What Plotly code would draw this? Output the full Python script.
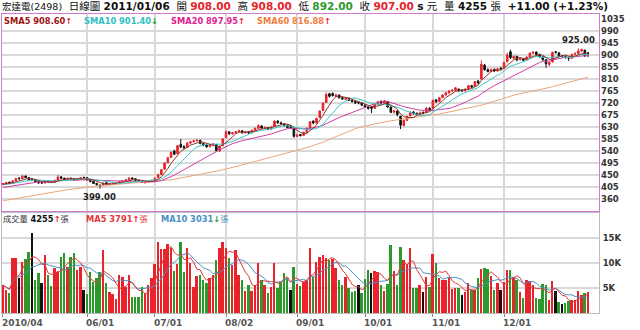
import pandas as pd
import plotly.graph_objects as go

# ---------------- data ----------------
holidays = ["2010-06-16", "2010-09-22"]
dates = pd.bdate_range("2010-04-26", "2011-01-06")
dates = dates[~dates.isin(pd.to_datetime(holidays))]

# closes before the first visible bar (only used to seed the moving averages)
pre_close = [290, 288, 292, 295, 293, 298, 300, 296, 302, 305, 308, 304, 310, 312, 315, 312, 318, 320,
             326, 329, 332, 328, 334, 339, 336, 342, 346, 344, 349, 352, 350, 356, 354, 359, 362, 360,
             364, 366, 369, 372,
             382, 385, 388, 386, 392, 396, 400, 398, 404, 408, 405, 410, 412, 408, 414, 416, 412, 418, 415]

open_ = [414, 417, 423, 420, 428, 438, 437, 446, 440, 434,
         432, 425, 421, 420, 427, 425, 422, 431, 443, 438,
         433, 438, 436, 431, 436, 441, 440, 432, 426, 419,
         412, 410, 421, 415, 418, 420, 422, 425, 428, 432,
         439, 436, 430, 426, 421, 424, 426, 430, 440, 452,
         472, 496, 516, 540, 530, 565, 556, 553, 570, 575,
         578, 580, 568, 562, 556, 562, 565, 540, 560, 590,
         612, 604, 608, 612, 616, 608, 612, 608, 618, 625,
         634, 626, 628, 622, 632, 652, 646, 642, 636, 635,
         625, 595, 602, 598, 610, 626, 652, 645, 665, 692,
         722, 755, 755, 745, 750, 740, 734, 738, 730, 726,
         722, 720, 712, 706, 705, 700, 715, 726, 720, 725,
         705, 686, 690, 670, 635, 655, 672, 686, 682, 677,
         685, 684, 700, 700, 732, 726, 740, 750, 758, 765,
         768, 772, 768, 766, 772, 785, 782, 802, 810, 862,
         845, 838, 846, 840, 850, 850, 875, 912, 888, 895,
         882, 886, 882, 893, 907, 911, 902, 893, 882, 865,
         874, 912, 908, 897, 895, 890, 888, 903, 905, 915,
         918, 908]
high = [420, 424, 425, 430, 440, 442, 450, 448, 442, 436,
        433, 427, 424, 428, 430, 427, 432, 450, 446, 440,
        440, 440, 437, 438, 442, 444, 441, 434, 428, 420,
        415, 422, 423, 420, 422, 424, 427, 430, 434, 442,
        441, 437, 431, 428, 426, 428, 432, 440, 455, 472,
        498, 518, 538, 545, 562, 585, 562, 572, 578, 582,
        584, 582, 570, 565, 565, 570, 566, 560, 588, 618,
        615, 612, 615, 620, 618, 615, 614, 620, 628, 640,
        636, 632, 630, 632, 655, 656, 650, 645, 640, 638,
        628, 605, 604, 612, 628, 652, 655, 665, 692, 722,
        760, 758, 760, 755, 752, 744, 742, 740, 733, 728,
        726, 722, 715, 708, 708, 718, 728, 730, 732, 727,
        708, 694, 692, 672, 658, 672, 688, 690, 684, 688,
        688, 705, 704, 732, 735, 742, 752, 762, 768, 772,
        780, 774, 772, 775, 788, 788, 802, 806, 880, 866,
        850, 850, 850, 852, 856, 875, 908, 920, 898, 897,
        890, 888, 895, 909, 915, 913, 905, 895, 885, 875,
        912, 915, 910, 900, 898, 894, 905, 910, 925, 924,
        920, 908]
low = [412, 415, 417, 419, 427, 433, 436, 438, 428, 428,
       423, 418, 417, 419, 422, 420, 421, 430, 436, 432,
       432, 433, 430, 430, 435, 437, 430, 423, 416, 410,
       399, 409, 414, 413, 416, 418, 421, 424, 427, 431,
       433, 428, 424, 420, 418, 422, 425, 429, 439, 451,
       470, 494, 514, 525, 529, 550, 548, 552, 566, 572,
       575, 565, 558, 552, 554, 560, 538, 536, 558, 588,
       600, 602, 605, 610, 605, 606, 604, 607, 616, 623,
       624, 624, 618, 620, 630, 642, 638, 632, 625, 624,
       590, 592, 594, 596, 608, 624, 640, 644, 664, 690,
       720, 740, 744, 742, 736, 732, 731, 728, 722, 716,
       715, 708, 702, 695, 682, 698, 713, 716, 718, 702,
       682, 680, 670, 622, 633, 652, 670, 676, 672, 675,
       678, 682, 690, 698, 720, 724, 738, 748, 755, 762,
       765, 762, 762, 764, 770, 776, 780, 790, 808, 840,
       835, 836, 836, 838, 842, 848, 872, 885, 884, 876,
       880, 876, 880, 891, 903, 899, 891, 879, 852, 858,
       872, 905, 892, 890, 886, 878, 886, 900, 904, 912,
       894, 892]
close = [418, 422, 419, 428, 436, 436, 445, 440, 432, 432,
         425, 420, 420, 426, 424, 422, 430, 442, 438, 434,
         438, 435, 432, 436, 440, 440, 432, 425, 418, 414,
         410, 420, 416, 418, 420, 422, 425, 428, 432, 438,
         435, 430, 426, 422, 424, 426, 430, 438, 452, 470,
         495, 515, 535, 528, 560, 555, 552, 570, 575, 578,
         580, 568, 562, 556, 562, 566, 542, 558, 585, 612,
         605, 608, 612, 616, 608, 612, 608, 618, 625, 635,
         626, 628, 622, 630, 652, 646, 642, 636, 628, 628,
         595, 600, 598, 610, 625, 650, 645, 662, 690, 720,
         752, 745, 748, 750, 740, 735, 738, 730, 726, 720,
         720, 712, 705, 700, 700, 715, 725, 720, 728, 705,
         685, 690, 677, 637, 655, 670, 685, 681, 677, 683,
         683, 700, 695, 730, 725, 740, 750, 758, 765, 768,
         777, 766, 766, 772, 785, 780, 800, 795, 865, 845,
         838, 845, 840, 848, 848, 872, 900, 890, 895, 882,
         886, 880, 892, 907, 910, 902, 893, 882, 867, 872,
         910, 910, 895, 895, 891, 888, 902, 905, 915, 920,
         896, 907]
volume = [5600, 4600, 4000, 11000, 11000, 7000, 10200, 10800, 12200, 16000,
          6600, 8000, 6000, 11600, 7600, 5400, 9000, 8200, 11200, 12000,
          9200, 11200, 12000, 8600, 9200, 4600, 3800, 8200, 6200, 7000,
          8200, 12600, 6000, 4200, 3800, 2800, 7600, 7200, 5200, 7600,
          3200, 3300, 3200, 5200, 4000, 5600, 7000, 9800, 14200, 12800,
          12800, 13800, 13000, 8400, 9800, 14200, 8200, 13000, 10000, 5200,
          7400, 7600, 6600, 6000, 7000, 7600, 10600, 13000, 14200, 13000,
          11000, 9600, 12600, 7600, 6600, 4400, 5600, 4400, 5600, 10000,
          6600, 5600, 4000, 5200, 10000, 5000, 6200, 8000, 7000, 4600,
          9200, 5800, 5400, 6200, 6600, 13000, 7200, 10200, 11270, 11600,
          10930, 10600, 10800, 9070, 6600, 5600, 7270, 4930, 4130, 4400,
          5600, 3930, 6800, 8600, 7930, 8400, 8270, 5600, 4400, 5800,
          13600, 8400, 5600, 13270, 10600, 9730, 13070, 4930, 5000, 5600,
          4270, 7270, 5270, 11730, 9930, 7070, 6600, 6600, 7070, 4800,
          4930, 5000, 3600, 4130, 5930, 4600, 4600, 7070, 8800, 9070,
          8800, 7470, 4600, 5930, 4600, 6130, 8600, 8600, 7270, 6600,
          4130, 2930, 6600, 6400, 5600, 2930, 2870, 5800, 5600, 2600,
          6400, 4400, 2300, 1900, 2050, 2450, 2655, 2600, 4400, 3600,
          4100, 4255]

price_ticks = [360, 405, 450, 495, 540, 585, 630, 675, 720, 765, 810, 855, 900, 945, 990, 1035]
vol_ticks = [5000, 10000, 15000]
vol_tick_text = ["5K", "10K", "15K"]

# ---------------- derived ----------------
n = len(close)
idx = list(range(n))
full = pd.Series(pre_close + close, dtype=float)
sma = {p: full.rolling(p).mean().iloc[len(pre_close):].tolist() for p in (5, 10, 20, 60)}
vs = pd.Series(volume, dtype=float)
vma5 = vs.rolling(5, min_periods=1).mean().tolist()
vma10 = vs.rolling(10, min_periods=1).mean().tolist()
prev_close = [pre_close[-1]] + close[:-1]

RED = "#e8232b"
GREEN = "#2b9a2b"
BLACK = "#111111"
vol_colors = [RED if c > p else (GREEN if c < p else BLACK) for c, p in zip(close, prev_close)]

C5, C10, C20, C60 = "#8e3b2c", "#3cc8c8", "#cf3fa0", "#eba57a"
T5, T10, T20, T60 = "#a01212", "#2fc0c0", "#e0208f", "#f07c40"
CV5, CV10 = "#e23a3a", "#4b8fc2"
GRID = "#d9d9d9"
BORDER = "#d27ad2"
FONT = "DejaVu Sans, Noto Sans CJK TC"

# month ticks (first trading day of each month, away from the ends)
d = pd.Series(dates)
tick_idx = [0] + [i for i in range(1, n) if d[i].month != d[i - 1].month and 10 <= i <= n - 10]
tick_lab = [d[0].strftime("%Y/%m")] + [d[i].strftime("%m/%d") for i in tick_idx[1:]]

# ---------------- figure ----------------
W, H = 640, 330
ML, MR, MT, MB = 2, 41, 14, 17
PH = H - MT - MB
XR = [-0.3, 184.39]


def ypap(ypx):
    return (H - MB - ypx) / PH


def xpap(xpx):
    return (xpx - ML) / (W - ML - MR)


fig = go.Figure()

fig.add_trace(go.Candlestick(
    x=idx, open=open_, high=high, low=low, close=close,
    increasing=dict(line=dict(color=RED, width=1), fillcolor=RED),
    decreasing=dict(line=dict(color=BLACK, width=1), fillcolor=BLACK),
    whiskerwidth=0, xaxis="x", yaxis="y", hoverinfo="skip", showlegend=False))

for p, col in ((60, C60), (20, C20), (10, C10), (5, C5)):
    fig.add_trace(go.Scatter(x=idx, y=sma[p], mode="lines", line=dict(color=col, width=1),
                             xaxis="x", yaxis="y", hoverinfo="skip", showlegend=False))

fig.add_trace(go.Bar(x=idx, y=volume, marker=dict(color=vol_colors, line=dict(width=0)),
                     width=0.6, xaxis="x2", yaxis="y2", hoverinfo="skip", showlegend=False))
fig.add_trace(go.Scatter(x=idx, y=vma10, mode="lines", line=dict(color=CV10, width=1),
                         xaxis="x2", yaxis="y2", hoverinfo="skip", showlegend=False))
fig.add_trace(go.Scatter(x=idx, y=vma5, mode="lines", line=dict(color=CV5, width=1),
                         xaxis="x2", yaxis="y2", hoverinfo="skip", showlegend=False))

# invisible trace to hold the right-hand price labels axis
fig.add_trace(go.Scatter(x=[idx[0]], y=[close[0]], mode="markers", marker=dict(opacity=0),
                         xaxis="x", yaxis="y3", hoverinfo="skip", showlegend=False))

pdom = [ypap(211), 1]
vdom = [0, ypap(213)]
tickfont = dict(family=FONT, size=8.5, color="#333333", weight="bold")

fig.update_layout(
    width=W, height=H, margin=dict(l=ML, r=MR, t=MT, b=MB),
    paper_bgcolor="white", plot_bgcolor="white",
    showlegend=False, bargap=0, boxgap=0.3,
    xaxis=dict(domain=[0, 1], anchor="y", range=XR, tickvals=tick_idx, showticklabels=False,
               showgrid=True, gridcolor=GRID, gridwidth=1.5, zeroline=False,
               showline=True, mirror=True, linecolor=BORDER, linewidth=1, ticks="",
               rangeslider=dict(visible=False)),
    yaxis=dict(domain=pdom, anchor="x", range=[315, 1053.75], tickvals=price_ticks[:-1],
               showticklabels=False, showgrid=True, gridcolor=GRID, gridwidth=1.5, zeroline=False,
               showline=True, mirror=True, linecolor=BORDER, linewidth=1, ticks=""),
    yaxis3=dict(overlaying="y", anchor="x", side="right", range=[315, 1053.75],
                tickvals=price_ticks, ticktext=[str(t) for t in price_ticks],
                showgrid=False, zeroline=False, showline=False, ticks="",
                tickfont=tickfont, ticklabelstandoff=1),
    xaxis2=dict(domain=[0, 1], anchor="y2", range=XR, tickvals=tick_idx, showticklabels=False,
                showgrid=True, gridcolor=GRID, gridwidth=1.5, zeroline=False,
                showline=True, mirror=True, linecolor="#bdbdbd", linewidth=1,
                ticks="outside", ticklen=3, tickcolor="#888888"),
    yaxis2=dict(domain=vdom, anchor="x2", side="right", range=[0, 20000], tickvals=vol_ticks,
                ticktext=vol_tick_text, showgrid=True, gridcolor=GRID, gridwidth=1.5,
                zeroline=False, showline=True, mirror=True, linecolor="#bdbdbd", linewidth=1,
                ticks="", tickfont=tickfont, ticklabelstandoff=1),
)

NB = "\u00a0"
ann = []


def colspan(text, color, bold=True):
    s = f"<span style='color:{color}'>{text}</span>"
    return f"<b>{s}</b>" if bold else s


def arrow(cur, prev):
    return colspan("↑", RED) if cur >= prev else colspan("↓", GREEN)


# title line
last, pc = close[-1], prev_close[-1]
chg = last - pc
pct = chg / pc * 100


def pcol(v):
    return RED if v > pc else (GREEN if v < pc else BLACK)


title = (f"<span style='font-size:9.5px'>宏達電(2498)</span>{NB * 2}日線圖{NB}"
         f"<b>{d.iloc[-1].strftime('%Y/%m/%d')}</b>{NB * 2}"
         f"開{NB}{colspan(f'{open_[-1]:.2f}', pcol(open_[-1]))}{NB * 2}"
         f"高{NB}{colspan(f'{high[-1]:.2f}', pcol(high[-1]))}{NB * 2}"
         f"低{NB}{colspan(f'{low[-1]:.2f}', pcol(low[-1]))}{NB * 2}"
         f"收{NB}{colspan(f'{last:.2f}', pcol(last))}{NB}<b>s</b>{NB}元{NB * 2}"
         f"量{NB}<b>{volume[-1]}</b>{NB}張{NB * 2}<b>{chg:+.2f}{NB}({pct:+.2f}%)</b>")
ann.append(dict(text=title, xref="paper", yref="paper", x=xpap(0), y=ypap(6.5),
                xanchor="left", yanchor="middle", showarrow=False,
                font=dict(family=FONT, size=10.5, color="#111111")))

# SMA legend row
for p, tcol, xpx in ((5, T5, 2), (10, T10, 82), (20, T20, 169), (60, T60, 255)):
    txt = (f"<b><span style='color:{tcol}'>SMA{p}{NB}{sma[p][-1]:.2f}</span></b>"
           f"{arrow(sma[p][-1], sma[p][-2])}")
    ann.append(dict(text=txt, xref="paper", yref="paper", x=xpap(xpx), y=ypap(21.5),
                    xanchor="left", yanchor="middle", showarrow=False,
                    font=dict(family=FONT, size=8.3)))

# volume header row
vtxt = [
    (f"<span style='color:#333333'>成交量</span>{NB}<b>{volume[-1]}</b>"
     f"{arrow(volume[-1], volume[-2])}<span style='color:#333333'>張</span>", 1),
    (f"{colspan(f'MA5{NB}{vma5[-1]:.0f}', CV5)}{arrow(vma5[-1], vma5[-2])}{colspan('張', CV5, False)}", 84),
    (f"{colspan(f'MA10{NB}{vma10[-1]:.0f}', CV10)}{arrow(vma10[-1], vma10[-2])}{colspan('張', CV10, False)}", 159),
]
for txt, xpx in vtxt:
    ann.append(dict(text=txt, xref="paper", yref="paper", x=xpap(xpx), y=ypap(219),
                    xanchor="left", yanchor="middle", showarrow=False,
                    font=dict(family=FONT, size=8.3, color="#111111")))

# high / low markers
ih = max(range(n), key=lambda i: high[i])
il = min(range(n), key=lambda i: low[i])
ann.append(dict(text=f"<b>{high[ih]:.2f}</b>", x=ih, y=high[ih], xref="x", yref="y",
                xanchor="center", yanchor="bottom", yshift=1, showarrow=False,
                font=dict(family=FONT, size=8.5, color="#222222")))
ann.append(dict(text=f"<b>{low[il]:.2f}</b>", x=il, y=low[il], xref="x", yref="y",
                xanchor="center", yanchor="top", yshift=-1, showarrow=False,
                font=dict(family=FONT, size=8.5, color="#222222")))

# date labels
for i, lab in zip(tick_idx, tick_lab):
    ann.append(dict(text=f"<b>{lab}</b>", x=i, xref="x2", y=ypap(323), yref="paper",
                    xanchor="left", yanchor="middle", xshift=-3, showarrow=False,
                    font=dict(family=FONT, size=9, color="#555555")))

fig.update_layout(annotations=ann)
fig.write_html("out.html")
